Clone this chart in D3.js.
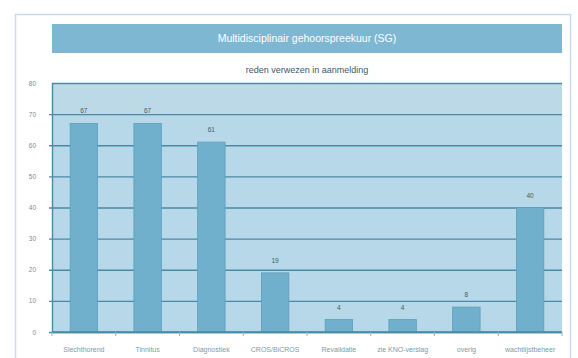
<!DOCTYPE html>
<html>
<head>
<meta charset="utf-8">
<script src="https://cdn.jsdelivr.net/npm/d3@7"></script>
<style>
  html, body { margin: 0; padding: 0; background: #ffffff; }
  svg { display: block; font-family: "Liberation Sans", Arial, sans-serif; }
</style>
</head>
<body>
<svg id="chart" width="578" height="358"></svg>
<script>
// Aanmeldredenen, multidisciplinair gehoorspreekuur
const categories = ["Slechthorend", "Tinnitus", "Diagnostiek", "CROS/BiCROS", "Revalidatie", "zie KNO-verslag", "overig", "wachtlijstbeheer"];
const counts = [67, 67, 61, 19, 4, 4, 8, 40];
const yTicks = [0, 10, 20, 30, 40, 50, 60, 70, 80];
const chartTitle = "Multidisciplinair gehoorspreekuur (SG)";
const chartSubtitle = "reden verwezen in aanmelding";

const svg = d3.select("#chart");
const plot = { left: 52, right: 562, top: 83, bottom: 332 };

// outer frame
svg.append("rect")
  .attr("x", 15.5).attr("y", 14.5)
  .attr("width", 555).attr("height", 360)
  .attr("fill", "#ffffff")
  .attr("stroke", "#c9dbe4").attr("stroke-width", 1.5);

// title bar
svg.append("rect")
  .attr("x", plot.left).attr("y", 24)
  .attr("width", plot.right - plot.left).attr("height", 29)
  .attr("fill", "#7db7d2");
svg.append("text")
  .attr("x", (plot.left + plot.right) / 2).attr("y", 42)
  .attr("text-anchor", "middle")
  .attr("fill", "#ffffff")
  .attr("font-size", 10.5)
  .text(chartTitle);

// subtitle
svg.append("text")
  .attr("x", (plot.left + plot.right) / 2).attr("y", 73)
  .attr("text-anchor", "middle")
  .attr("fill", "#3c5a6a")
  .attr("font-size", 9)
  .text(chartSubtitle);

const x = d3.scaleBand()
  .domain(categories)
  .range([plot.left, plot.right])
  .paddingInner(0.57)
  .paddingOuter(0.285);

const y = d3.scaleLinear()
  .domain([0, 80])
  .range([plot.bottom, plot.top]);

// plot background
svg.append("rect")
  .attr("x", plot.left).attr("y", plot.top)
  .attr("width", plot.right - plot.left).attr("height", plot.bottom - plot.top)
  .attr("fill", "#b6d8e8");
svg.append("rect")
  .attr("x", plot.left).attr("y", plot.top)
  .attr("width", plot.right - plot.left).attr("height", y(70) - plot.top)
  .attr("fill", "#bcd9e7");

// gridlines and y labels
const yAxis = d3.axisLeft(y)
  .tickValues(yTicks)
  .tickSize(-(plot.right - plot.left))
  .tickPadding(16)
  .tickFormat(d3.format("d"));
const gy = svg.append("g")
  .attr("transform", `translate(${plot.left},0)`)
  .call(yAxis);
gy.select(".domain").attr("stroke", "#4a8aa7").attr("stroke-width", 1.4);
gy.selectAll(".tick line")
  .attr("stroke", "#4a8aa7").attr("stroke-width", 1.4)
  .attr("x1", -3);
gy.selectAll(".tick text")
  .attr("fill", "#7d8c94")
  .attr("font-size", 6.5)
  .attr("font-family", "Liberation Sans, Arial, sans-serif");
gy.selectAll(".tick").filter(d => d === 80).select("line").attr("stroke", "none");

// bars
svg.append("g").selectAll("rect")
  .data(categories)
  .join("rect")
  .attr("x", d => x(d))
  .attr("y", (d, i) => y(counts[i]))
  .attr("width", x.bandwidth())
  .attr("height", (d, i) => y(0) - y(counts[i]))
  .attr("fill", "#71b0cd")
  .attr("stroke", "#5c9dbb")
  .attr("stroke-width", 0.8);

// value labels
svg.append("g").selectAll("text")
  .data(categories)
  .join("text")
  .attr("x", d => x(d) + x.bandwidth() / 2)
  .attr("y", (d, i) => y(counts[i]) - 10)
  .attr("text-anchor", "middle")
  .attr("fill", "#4a5a62")
  .attr("font-size", 6.5)
  .text((d, i) => counts[i]);

// x axis with ticks at category boundaries
const step = x.step();
const xAxisG = svg.append("g").attr("transform", `translate(0,${plot.bottom})`);
xAxisG.append("line")
  .attr("x1", plot.left).attr("x2", plot.right)
  .attr("stroke", "#4a8aa7").attr("stroke-width", 1.6);
xAxisG.selectAll("line.tk")
  .data(d3.range(categories.length + 1))
  .join("line")
  .attr("class", "tk")
  .attr("x1", i => plot.left + i * step).attr("x2", i => plot.left + i * step)
  .attr("y1", 0).attr("y2", 4)
  .attr("stroke", "#8fb4c6").attr("stroke-width", 1);
xAxisG.selectAll("text")
  .data(categories)
  .join("text")
  .attr("x", d => x(d) + x.bandwidth() / 2)
  .attr("y", 20)
  .attr("text-anchor", "middle")
  .attr("fill", "#7d9aa8")
  .attr("font-size", 7)
  .text(d => d);
</script>
</body>
</html>
